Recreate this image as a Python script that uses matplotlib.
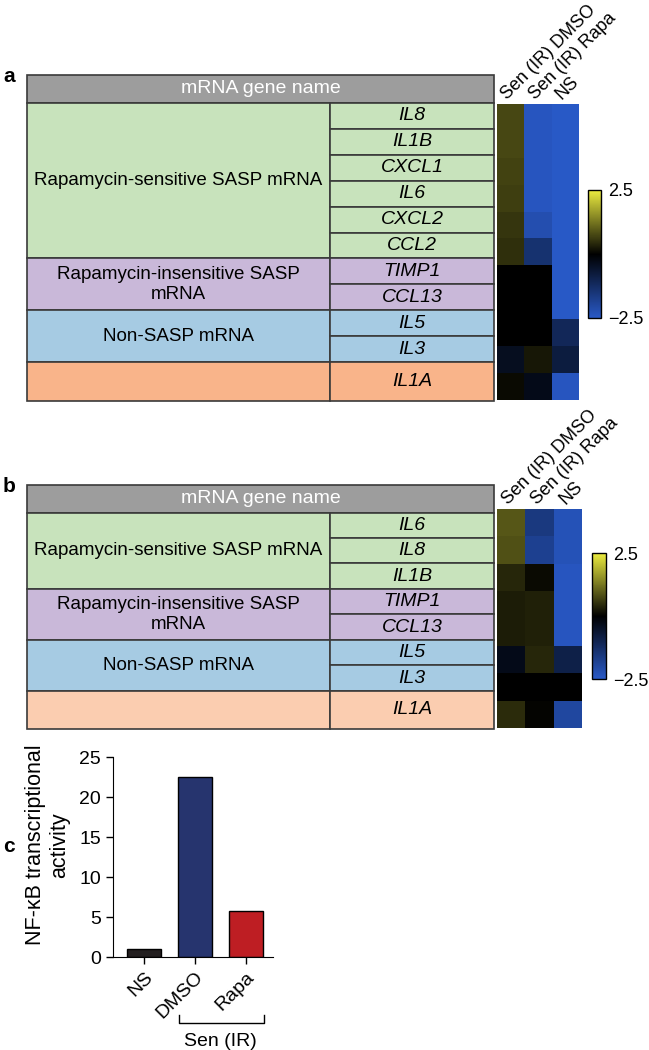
import matplotlib
matplotlib.use("Agg")
import matplotlib.pyplot as plt
import numpy as np
from matplotlib.colors import LinearSegmentedColormap
from matplotlib.patches import Rectangle

plt.rcParams['font.family'] = ['Liberation Sans', 'DejaVu Sans']
plt.rcParams['font.size'] = 13.5

W, H = 649, 1050

# --- datos ---
conditions = ["Sen (IR) DMSO", "Sen (IR) Rapa", "NS"]

genes_a = ["IL8", "IL1B", "CXCL1", "IL6", "CXCL2", "CCL2", "TIMP1", "CCL13", "IL5", "IL3", "IL1A"]
groups_a = ["Rapamycin-sensitive SASP mRNA", "Rapamycin-insensitive SASP\nmRNA", "Non-SASP mRNA", ""]
group_sizes_a = [6, 2, 2, 1]
dmso_a = [0.75, 0.75, 0.7, 0.65, 0.55, 0.5, 0.0, 0.0, 0.0, -0.4, 0.1]
rapa_a = [-2.4, -2.4, -2.4, -2.4, -2.2, -1.4, 0.0, 0.0, 0.0, 0.25, -0.3]
ns_a = [-2.5, -2.5, -2.5, -2.5, -2.5, -2.5, -2.5, -2.5, -1.1, -0.8, -2.4]

genes_b = ["IL6", "IL8", "IL1B", "TIMP1", "CCL13", "IL5", "IL3", "IL1A"]
groups_b = ["Rapamycin-sensitive SASP mRNA", "Rapamycin-insensitive SASP\nmRNA", "Non-SASP mRNA", ""]
group_sizes_b = [3, 2, 2, 1]
dmso_b = [0.9, 0.85, 0.4, 0.3, 0.3, -0.3, 0.0, 0.45]
rapa_b = [-1.6, -1.8, 0.1, 0.35, 0.35, 0.4, 0.0, 0.05]
ns_b = [-2.3, -2.3, -2.4, -2.4, -2.4, -0.9, 0.0, -2.0]

bar_labels = ["NS", "DMSO", "Rapa"]
nfkb = [1.0, 22.5, 5.75]

# --- estilo ---
colors_a = ["#c8e3bc", "#c9b8d9", "#a6cbe3", "#f9b48a"]
colors_b = ["#c8e3bc", "#c9b8d9", "#a6cbe3", "#fbcdb0"]
bar_colors = ["#231f20", "#26346e", "#be1e23"]
cmap = LinearSegmentedColormap.from_list(
    "byk", [(0.0, (0.16, 0.35, 0.78)), (0.5, (0, 0, 0)), (1.0, (0.93, 0.93, 0.25))])

fig = plt.figure(figsize=(W / 100, H / 100), dpi=100)


def px_axes(left, top, right, bottom):
    return fig.add_axes([left / W, 1 - bottom / H, (right - left) / W, (bottom - top) / H])


def draw_table(box, genes, groups, sizes, colors):
    ax = px_axes(*box)
    hdr = 1.08
    heights = [1.0] * (len(genes) - 1) + [1.5]
    total = hdr + sum(heights)
    ax.set_xlim(0, 1)
    ax.set_ylim(total, 0)
    ax.axis('off')
    split = 0.649
    ec, lw = '#3a3a3a', 1.2
    ax.add_patch(Rectangle((0, 0), 1, hdr, fc='#9d9d9d', ec=ec, lw=lw, clip_on=False))
    ax.text(0.5, hdr / 2, "mRNA gene name", color='white', ha='center', va='center', fontsize=14)
    y, i = hdr, 0
    for name, n, col in zip(groups, sizes, colors):
        gh = sum(heights[i:i + n])
        ax.add_patch(Rectangle((0, y), split, gh, fc=col, ec=ec, lw=lw, clip_on=False))
        ax.text(split / 2, y + gh / 2, name, ha='center', va='center', linespacing=1.25)
        yy = y
        for k in range(n):
            h = heights[i + k]
            ax.add_patch(Rectangle((split, yy), 1 - split, h, fc=col, ec=ec, lw=lw, clip_on=False))
            ax.text((1 + split) / 2, yy + h / 2, genes[i + k], style='italic', ha='center', va='center',
                    fontsize=14)
            yy += h
        y += gh
        i += n


def draw_heat(box, cbox, dmso, rapa, ns):
    ax = px_axes(*box)
    data = np.column_stack([dmso, rapa, ns])
    im = ax.imshow(data, cmap=cmap, vmin=-2.5, vmax=2.5, aspect='auto', interpolation='nearest')
    ax.xaxis.tick_top()
    ax.set_xticks(range(3))
    ax.set_xticklabels(conditions, rotation=45, ha='left', va='bottom', rotation_mode='anchor',
                       fontsize=13)
    ax.tick_params(length=0, pad=1)
    ax.set_yticks([])
    for s in ax.spines.values():
        s.set_visible(False)
    cax = px_axes(*cbox)
    cb = fig.colorbar(im, cax=cax, ticks=[-2.5, 2.5])
    cb.ax.set_yticklabels(["\u22122.5", "2.5"])
    cb.ax.tick_params(length=0, pad=5, labelsize=13)
    cb.outline.set_linewidth(1.0)


# panel a
draw_table((27, 75, 494, 401), genes_a, groups_a, group_sizes_a, colors_a)
draw_heat((497, 104, 578, 400), (588, 190, 601, 318), dmso_a, rapa_a, ns_a)

# panel b
draw_table((27, 485, 494, 729), genes_b, groups_b, group_sizes_b, colors_b)
draw_heat((497, 509, 582, 728), (592, 553, 606, 679), dmso_b, rapa_b, ns_b)

# panel c
ax = px_axes(113, 757, 273, 957)
x = np.arange(len(bar_labels))
ax.bar(x, nfkb, width=0.67, color=bar_colors, edgecolor='black', linewidth=1)
ax.set_xlim(-0.61, 2.53)
ax.set_ylim(0, 25)
ax.set_yticks([0, 5, 10, 15, 20, 25])
ax.set_xticks(x)
ax.set_xticklabels(bar_labels, rotation=45, ha='right', rotation_mode='anchor')
ax.tick_params(direction='out', length=5, width=1, labelsize=14)
ax.spines['top'].set_visible(False)
ax.spines['right'].set_visible(False)
ax.set_ylabel("NF-\u03baB transcriptional\nactivity", fontsize=15.5, linespacing=1.15)
ax.yaxis.set_label_coords(-0.27, 0.56)
tr = ax.get_xaxis_transform()
ax.plot([0.68, 0.68, 2.35, 2.35], [-0.29, -0.33, -0.33, -0.29], color='black', lw=1,
        transform=tr, clip_on=False)
ax.text(1.5, -0.42, "Sen (IR)", ha='center', va='center', transform=tr, fontsize=14)

# letras de panel
for lbl, yp in [("a", 76), ("b", 487), ("c", 846)]:
    fig.text(3 / W, 1 - yp / H, lbl, fontsize=15, fontweight='bold', va='center')

fig.savefig("out.png", dpi=100)
